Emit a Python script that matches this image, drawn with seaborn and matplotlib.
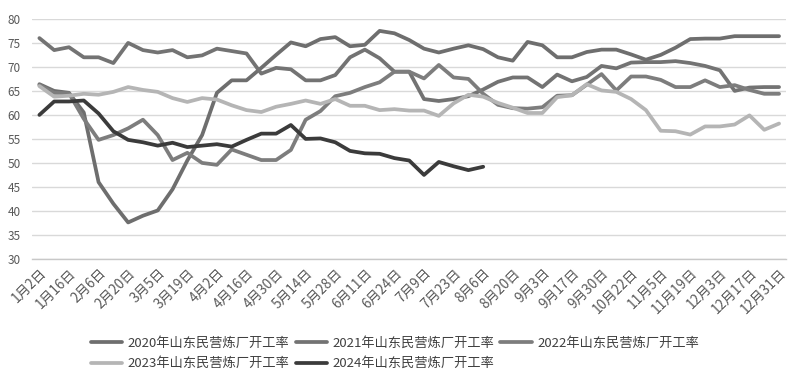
import numpy as np
import pandas as pd
import matplotlib.pyplot as plt
import seaborn as sns
from matplotlib.ticker import FixedLocator

# weekly operating rate (%), 51 weeks
rate_2020 = [66.4, 65.0, 64.6, 60.5, 46.0, 41.5, 37.6, 39.0, 40.1, 44.5, 50.5, 55.8, 64.6, 67.2, 67.2,
             69.8, 72.5, 75.1, 74.3, 75.8, 76.2, 74.3, 74.6, 77.5, 77.0, 75.6, 73.8, 73.0, 73.8, 74.5,
             73.7, 72.0, 71.3, 75.2, 74.5, 72.0, 72.0, 73.1, 73.6, 73.6, 72.6, 71.5, 72.5, 74.0, 75.8,
             75.9, 75.9, 76.4, 76.4, 76.4, 76.4]
rate_2021 = [76.0, 73.5, 74.1, 72.0, 72.0, 70.8, 75.0, 73.5, 73.0, 73.5, 72.0, 72.4, 73.8, 73.3, 72.8,
             68.6, 69.8, 69.5, 67.2, 67.2, 68.3, 72.0, 73.6, 71.8, 69.0, 69.0, 63.3, 62.9, 63.3, 63.9,
             65.3, 66.9, 67.8, 67.8, 65.8, 68.4, 67.0, 67.9, 70.2, 69.7, 70.9, 71.0, 71.0, 71.2, 70.8,
             70.2, 69.3, 65.0, 65.7, 65.8, 65.8]
rate_2022 = [66.2, 64.6, 64.5, 59.2, 54.8, 55.8, 57.2, 59.0, 55.8, 50.6, 52.1, 50.0, 49.6, 52.8, 51.7,
             50.6, 50.6, 52.7, 59.0, 60.8, 63.9, 64.6, 65.8, 66.8, 69.0, 69.0, 67.6, 70.4, 67.8, 67.5,
             64.4, 62.1, 61.4, 61.3, 61.6, 64.0, 64.1, 66.3, 68.5, 65.1, 68.0, 68.0, 67.3, 65.8, 65.8,
             67.2, 65.8, 66.2, 65.2, 64.4, 64.4]
rate_2023 = [66.0, 63.8, 64.0, 64.4, 64.2, 64.8, 65.8, 65.2, 64.8, 63.5, 62.7, 63.5, 63.2, 62.0, 61.0,
             60.6, 61.7, 62.3, 63.0, 62.3, 63.3, 61.9, 61.9, 61.0, 61.2, 60.9, 60.9, 59.8, 62.4, 64.2,
             63.8, 62.5, 61.5, 60.4, 60.4, 63.7, 64.1, 66.4, 65.1, 64.8, 63.3, 61.0, 56.7, 56.6, 55.9,
             57.6, 57.6, 58.0, 59.9, 56.9, 58.2]
rate_2024 = [60.0, 62.8, 62.8, 63.0, 60.3, 56.6, 54.8, 54.3, 53.6, 54.2, 53.3, 53.6, 53.9, 53.4, 54.8,
             56.1, 56.1, 57.9, 55.0, 55.1, 54.3, 52.5, 52.0, 51.9, 51.0, 50.5, 47.5, 50.2, 49.3, 48.5,
             49.2]

x_labels = ['1月2日', '1月16日', '2月6日', '2月20日', '3月5日', '3月19日', '4月2日', '4月16日',
            '4月30日', '5月14日', '5月28日', '6月11日', '6月24日', '7月9日', '7月23日', '8月6日',
            '8月20日', '9月3日', '9月17日', '9月30日', '10月22日', '11月5日', '11月19日', '12月3日',
            '12月17日', '12月31日']

names = ['2020年山东民营炼厂开工率', '2021年山东民营炼厂开工率', '2022年山东民营炼厂开工率',
         '2023年山东民营炼厂开工率', '2024年山东民营炼厂开工率']
colors = ['#6e6e6e', '#737373', '#7d7d7d', '#b5b5b5', '#3b3b3b']

rows = []
for name, vals in zip(names, [rate_2020, rate_2021, rate_2022, rate_2023, rate_2024]):
    for i, v in enumerate(vals):
        rows.append({'week': i, 'rate': v, 'series': name})
df = pd.DataFrame(rows)

sns.set_theme(style="white")
plt.rcParams['font.family'] = ['Noto Sans CJK SC', 'DejaVu Sans']

fig = plt.figure(figsize=(7.9, 3.78), dpi=100)
ax = fig.add_axes([0.0405, 0.315, 0.955, 0.635])

sns.lineplot(data=df, x='week', y='rate', hue='series', hue_order=names,
             palette=dict(zip(names, colors)), linewidth=2.7, ax=ax, legend=False)

n = len(rate_2020)
ax.set_xlim(-0.5, n - 0.5)
ax.set_ylim(30, 80)
ax.set_yticks(range(30, 81, 5))
ax.yaxis.grid(True, color='#d9d9d9', linewidth=1)
ax.set_axisbelow(True)
for s in ['top', 'right', 'left']:
    ax.spines[s].set_visible(False)
ax.spines['bottom'].set_color('#c8c8c8')
ax.spines['bottom'].set_linewidth(1)

ax.set_xticks(range(0, n, 2))
ax.set_xticklabels(x_labels, rotation=45, ha='right', va='top', rotation_mode='anchor',
                   fontsize=9.8, color='#595959')
ax.tick_params(axis='x', which='major', length=0, pad=5)
ax.xaxis.set_minor_locator(FixedLocator(np.arange(-0.5, n, 1)))
ax.tick_params(axis='x', which='minor', length=4, color='#c8c8c8', width=1, direction='out')
ax.tick_params(axis='y', length=0, labelsize=8.5, labelcolor='#595959', pad=8)
ax.set_xlabel('')
ax.set_ylabel('')

# legend filled row by row like the original
handles = [plt.Line2D([], [], color=c, linewidth=2.7) for c in colors]
order = [0, 3, 1, 4, 2]
fig.legend([handles[k] for k in order], [names[k] for k in order],
           loc='upper center', bbox_to_anchor=(0.5, 0.14), ncol=3,
           frameon=False, fontsize=9.5, handlelength=2.4, handletextpad=0.4,
           columnspacing=0.45, labelspacing=0.55, labelcolor='#404040')

fig.savefig('out.png', dpi=100)
